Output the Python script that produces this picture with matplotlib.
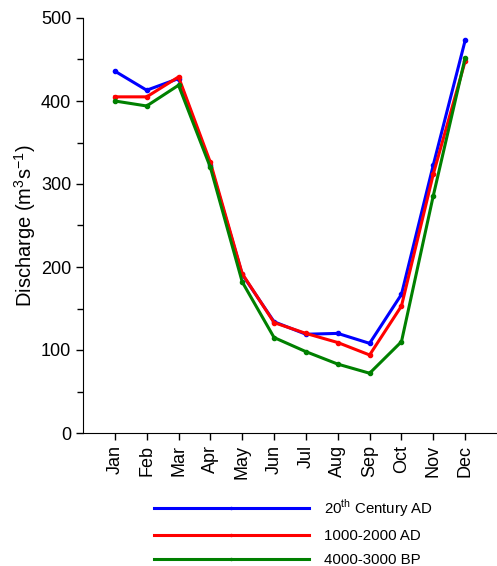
import numpy as np
import matplotlib
matplotlib.use('Agg')
import matplotlib.pyplot as plt

plt.rcParams['font.family'] = ['Liberation Sans', 'DejaVu Sans']

months = ['Jan', 'Feb', 'Mar', 'Apr', 'May', 'Jun', 'Jul', 'Aug', 'Sep', 'Oct', 'Nov', 'Dec']
century20 = [436, 413, 427, 323, 191, 134, 119, 120, 108, 167, 323, 473]
ad1000_2000 = [405, 405, 429, 326, 192, 133, 120, 109, 94, 153, 312, 448]
bp4000_3000 = [400, 394, 419, 320, 182, 115, 98, 83, 72, 110, 286, 452]

labels = ['20$^{\\mathregular{th}}$ Century AD', '1000-2000 AD', '4000-3000 BP']
colors = ['#0000ff', '#ff0000', '#008000']

fig = plt.figure(figsize=(4.97, 5.66), dpi=100)
ax = fig.add_axes([83 / 497, 1 - 433 / 566, 1 - 83 / 497, (433 - 18) / 566])

x = np.arange(1, 13)
for series, lab, c in zip([century20, ad1000_2000, bp4000_3000], labels, colors):
    ax.plot(x, series, color=c, lw=2.2, marker='o', ms=3, label=lab)

ax.set_xlim(0, 13)
ax.set_ylim(0, 500)
ax.set_xticks(x)
ax.set_xticklabels(months, rotation=90, fontsize=13)
ax.set_yticks(range(0, 501, 100))
ax.set_yticks(range(50, 500, 100), minor=True)
ax.tick_params(axis='y', labelsize=13)
ax.tick_params(direction='out', length=5, width=1, color='black')
ax.tick_params(which='minor', direction='out', length=4, width=1)
ax.spines['top'].set_visible(False)
ax.spines['right'].set_visible(False)
ax.set_ylabel('Discharge (m$^{\\mathregular{3}}$s$^{\\mathregular{-1}}$)', fontsize=14.5, labelpad=2)

fig.legend(loc='upper left', bbox_to_anchor=(154 / 497, 1 - 497 / 566), frameon=False,
           handlelength=10.3, handletextpad=1.0, labelspacing=0.68, numpoints=1,
           markerscale=0.5, fontsize=10.8, borderaxespad=0, borderpad=0)

fig.savefig('out.png', dpi=100)
